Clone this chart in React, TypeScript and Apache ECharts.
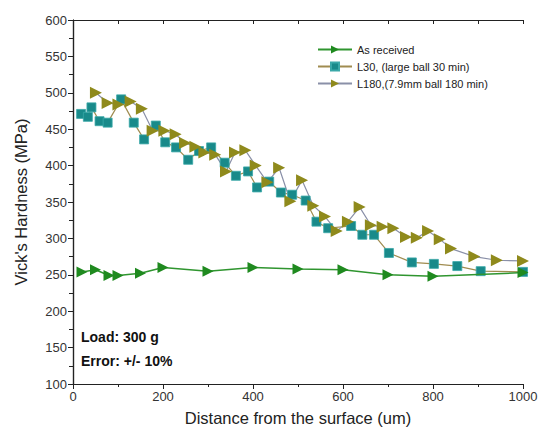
import React, { useEffect, useRef } from "react";
import * as echarts from "echarts";

const xTicks = [0, 200, 400, 600, 800, 1000];
const yTicks = [100, 150, 200, 250, 300, 350, 400, 450, 500, 550, 600];

const seriesNames = ["As received", "L30, (large ball 30 min)", "L180,(7.9mm ball 180 min)"];

const xReceived = [20, 50, 80, 100, 150, 200, 300, 400, 500, 600, 700, 800, 1000];
const yReceived = [254, 257, 249, 249, 252, 260, 255, 260, 258, 257, 250, 248, 253];

const xL30 = [18, 33, 41, 59, 77, 107, 135, 158, 184, 205, 229, 256, 280, 307, 337, 362, 389, 409, 436, 462, 487, 517, 541, 567, 618, 643, 669, 702, 753, 802, 854, 906, 1000];
const yL30 = [471, 467, 480, 461, 459, 491, 459, 436, 455, 432, 425, 408, 420, 425, 404, 386, 392, 370, 378, 363, 360, 352, 323, 314, 317, 305, 305, 280, 267, 265, 262, 255, 254];

const xL180 = [51, 77, 101, 128, 153, 177, 203, 228, 249, 272, 292, 316, 340, 360, 383, 406, 432, 458, 483, 509, 534, 560, 586, 611, 637, 662, 688, 712, 740, 764, 789, 815, 840, 892, 942, 1000];
const yL180 = [500, 486, 484, 488, 478, 448, 448, 443, 431, 426, 418, 415, 392, 418, 421, 400, 377, 397, 351, 380, 345, 330, 310, 323, 343, 318, 316, 314, 302, 301, 310, 299, 286, 275, 270, 269];

const annotations = ["Load: 300 g", "Error: +/- 10%"];

const FONT = "Liberation Sans, Arial, sans-serif";

function zip(xs: number[], ys: number[]) {
  return xs.map((x, i) => [x, ys[i]]);
}

export default function App() {
  const ref = useRef<HTMLDivElement>(null);
  useEffect(() => {
    document.body.style.margin = "0";
    if (!ref.current) return;
    const chart = echarts.init(ref.current, undefined, { renderer: "svg" });
    const xMin = xTicks[0];
    const xMax = xTicks[xTicks.length - 1];
    const yMin = yTicks[0];
    const yMax = yTicks[yTicks.length - 1];
    chart.setOption({
      animation: false,
      backgroundColor: "#ffffff",
      textStyle: { fontFamily: FONT },
      grid: { left: 73, right: 23, top: 20, bottom: 51, containLabel: false },
      legend: {
        orient: "vertical",
        left: 312,
        top: 39,
        itemWidth: 34,
        itemHeight: 10,
        itemGap: 6,
        textStyle: { fontFamily: FONT, fontSize: 11, color: "#222" },
        data: seriesNames,
      },
      xAxis: [
        {
          type: "value",
          min: xMin,
          max: xMax,
          interval: 200,
          position: "bottom",
          name: "Distance from the surface (um)",
          nameLocation: "middle",
          nameGap: 25,
          nameTextStyle: { fontFamily: FONT, fontSize: 16.5, color: "#222" },
          axisLine: { show: true, lineStyle: { color: "#222", width: 1.2 } },
          axisTick: { show: true, length: 5, lineStyle: { color: "#222" } },
          minorTick: { show: true, splitNumber: 2, length: 3, lineStyle: { color: "#222" } },
          axisLabel: { fontFamily: FONT, fontSize: 13, color: "#333", margin: 6, formatter: (v: number) => String(v) },
          splitLine: { show: false },
        },
        {
          type: "value",
          min: xMin,
          max: xMax,
          interval: 100,
          position: "top",
          axisLine: { show: true, lineStyle: { color: "#222", width: 1.2 } },
          axisTick: { show: true, inside: true, length: 4, lineStyle: { color: "#222" } },
          axisLabel: { show: false },
          splitLine: { show: false },
        },
      ],
      yAxis: [
        {
          type: "value",
          min: yMin,
          max: yMax,
          interval: 50,
          position: "left",
          name: "Vick's Hardness (MPa)",
          nameLocation: "middle",
          nameGap: 44,
          nameTextStyle: { fontFamily: FONT, fontSize: 16.5, color: "#222" },
          axisLine: { show: true, lineStyle: { color: "#222", width: 1.2 } },
          axisTick: { show: true, length: 5, lineStyle: { color: "#222" } },
          minorTick: { show: true, splitNumber: 2, length: 3, lineStyle: { color: "#222" } },
          axisLabel: { fontFamily: FONT, fontSize: 13, color: "#333", margin: 6, formatter: (v: number) => String(v) },
          splitLine: { show: false },
        },
        {
          type: "value",
          min: yMin,
          max: yMax,
          interval: 25,
          position: "right",
          axisLine: { show: true, lineStyle: { color: "#222", width: 1.2 } },
          axisTick: { show: true, inside: true, length: 4, lineStyle: { color: "#222" } },
          axisLabel: { show: false },
          splitLine: { show: false },
        },
      ],
      series: [
        {
          name: seriesNames[0],
          type: "line",
          xAxisIndex: 0,
          yAxisIndex: 0,
          data: zip(xReceived, yReceived),
          symbol: "triangle",
          symbolRotate: -90,
          symbolSize: 11,
          lineStyle: { color: "#2f952f", width: 1.5 },
          itemStyle: { color: "#1f8a1f" },
          z: 3,
        },
        {
          name: seriesNames[1],
          type: "line",
          xAxisIndex: 0,
          yAxisIndex: 0,
          data: zip(xL30, yL30),
          symbol: "rect",
          symbolSize: 9,
          lineStyle: { color: "#a08c50", width: 1.2 },
          itemStyle: { color: "#198a8a", borderColor: "#3aa8a8", borderWidth: 0.8 },
          z: 2,
        },
        {
          name: seriesNames[2],
          type: "line",
          xAxisIndex: 0,
          yAxisIndex: 0,
          data: zip(xL180, yL180),
          symbol: "triangle",
          symbolRotate: -90,
          symbolSize: 12,
          lineStyle: { color: "#8a90a8", width: 1.2 },
          itemStyle: { color: "#8f8a1c" },
          z: 2,
        },
      ],
      graphic: [
        {
          type: "text",
          left: 81,
          top: 330,
          style: { text: annotations[0], font: `bold 14px ${FONT}`, fill: "#111" },
        },
        {
          type: "text",
          left: 81,
          top: 354,
          style: { text: annotations[1], font: `bold 14px ${FONT}`, fill: "#111" },
        },
      ],
    });
    return () => chart.dispose();
  }, []);
  return <div ref={ref} style={{ width: 546, height: 435 }} />;
}
